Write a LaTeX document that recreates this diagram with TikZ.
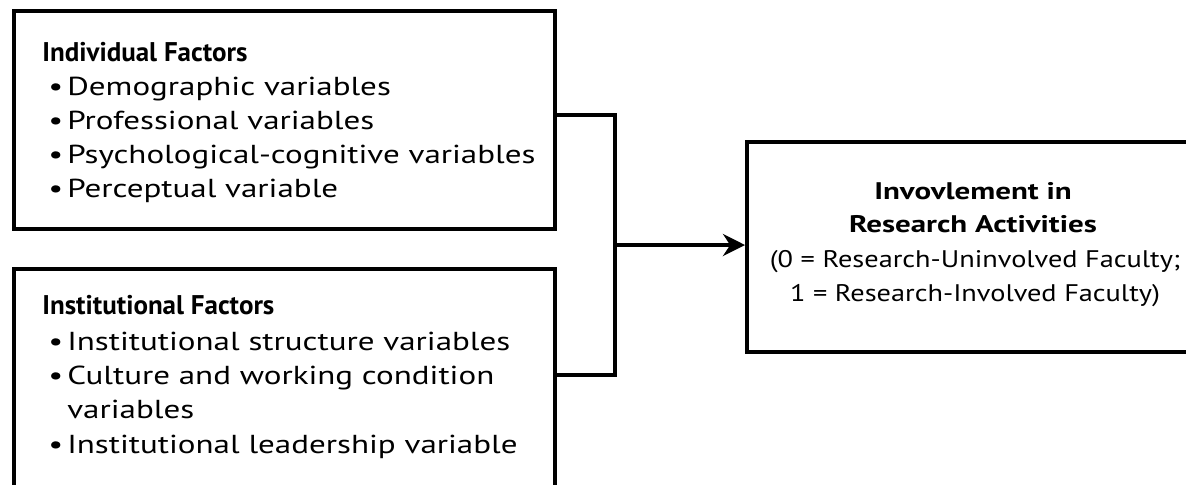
\documentclass[tikz,border=0pt]{standalone}
\usepackage{fontspec}
\setmainfont{PT Sans}[FakeStretch=1.18, BoldFeatures={FakeStretch=1.29}]
\newfontfamily\boxfont{PT Sans}[FakeStretch=1.27, BoldFeatures={FakeStretch=1.0}]
\usetikzlibrary{arrows.meta}
\begin{document}
\begin{tikzpicture}[x=0.5pt,y=-0.5pt,
  box/.style={draw, line width=2pt, inner sep=0pt, rectangle},
  ttl/.style={anchor=base west, inner sep=0pt, font=\boxfont\fontsize{13.5}{16}\selectfont\bfseries},
  itm/.style={anchor=base west, inner sep=0pt, font=\boxfont\fontsize{13}{16}\selectfont},
  ctr/.style={anchor=base, inner sep=0pt, font=\fontsize{12}{15}\selectfont},
  ctrb/.style={anchor=base, inner sep=0pt, font=\fontsize{12}{15}\selectfont\bfseries},
  conn/.style={line width=2pt},
  arr/.style={line width=2pt, -{Stealth[length=11pt,width=11pt]}}
]
\clip (0,0) rectangle (1186,484);
\fill[white] (0,0) rectangle (1186,484);
% boxes
\node[box, minimum width=270.5pt, minimum height=109pt] (box1) at (284.5,120) {};
\node[box, minimum width=270.5pt, minimum height=125pt] (box2) at (284.5,394) {};
\node[box, minimum width=226.5pt, minimum height=105pt] (box3) at (973.5,247) {};
% box 1 text
\node[ttl] (t1) at (42,61) {Individual Factors};
\node[itm] (t1a) at (48,95) {\textbullet\hspace{2pt}Demographic variables};
\node[itm] (t1b) at (48,129) {\textbullet\hspace{2pt}Professional variables};
\node[itm] (t1c) at (48,163) {\textbullet\hspace{2pt}Psychological-cognitive variables};
\node[itm] (t1d) at (48,197) {\textbullet\hspace{2pt}Perceptual variable};
% box 2 text
\node[ttl] (t2) at (42,314) {Institutional Factors};
\node[itm] (t2a) at (48,350) {\textbullet\hspace{2pt}Institutional structure variables};
\node[itm] (t2b) at (48,384) {\textbullet\hspace{2pt}Culture and working condition};
\node[itm] (t2c) at (48,418) {\phantom{\textbullet\hspace{2pt}}variables};
\node[itm] (t2d) at (48,453) {\textbullet\hspace{2pt}Institutional leadership variable};
% box 3 text
\node[ctrb] (t3a) at (973,199) {Invovlement in};
\node[ctrb] (t3b) at (973,232) {Research Activities};
\node[ctr] (t3c) at (975,267) {(0 = Research-Uninvolved Faculty;};
\node[ctr] (t3d) at (975,301) {1 = Research-Involved Faculty)};
% connectors
\coordinate (j1) at (615,115);
\coordinate (j2) at (615,375);
\coordinate (jm) at (615,245);
\draw[conn] (box1.east |- j1) -- (j1) -- (j2) -- (box2.east |- j2);
\draw[arr] (jm) -- (box3.west |- jm);
\end{tikzpicture}
\end{document}
